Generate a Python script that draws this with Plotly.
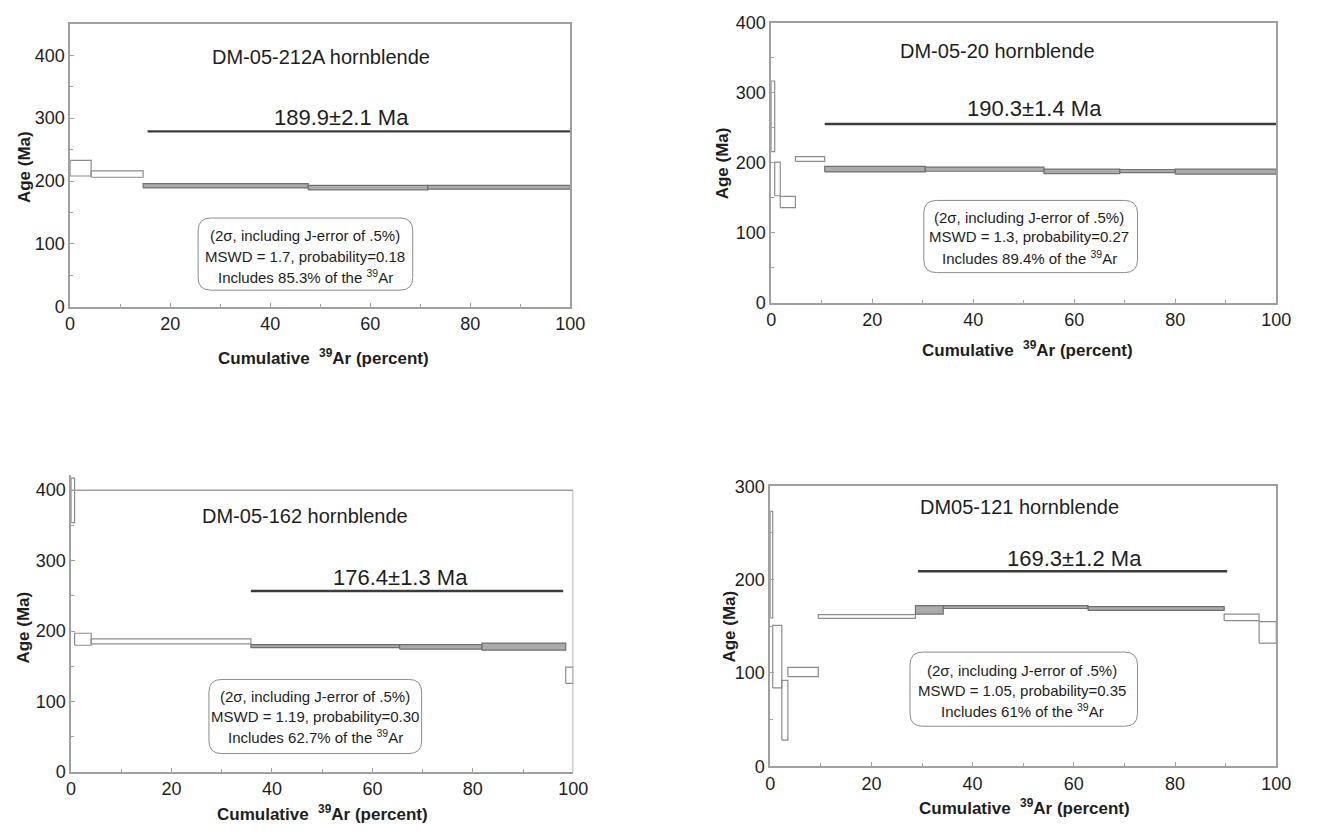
import plotly.graph_objects as go

PAGE_W, PAGE_H = 1318, 834
OFF = 8                      # default body margin of the html page
W, H = PAGE_W - 2 * OFF, PAGE_H - 2 * OFF

# ---------------- data ----------------
# Panel 1: DM-05-212A hornblende
p1_edges = [0, 4.2, 14.6, 47.6, 71.5, 100]
p1_lo = [208, 206, 189, 186, 187]
p1_hi = [233, 216, 196, 193, 193]
p1_plateau = [False, False, True, True, True]
p1_line = [15.5, 100, 279]
p1_name = "DM-05-212A hornblende"
p1_age = "189.9±2.1 Ma"
p1_stats = ["(2σ, including J-error of .5%)", "MSWD = 1.7, probability=0.18",
            "Includes 85.3% of the <sup>39</sup>Ar"]
p1_ymax = 450

# Panel 2: DM-05-20 hornblende
p2_edges = [0, 0.7, 1.8, 4.8, 10.6, 30.5, 54, 69, 80, 100]
p2_lo = [216, 153, 136, 202, 187, 188, 184.5, 186, 184]
p2_hi = [317, 201, 152, 209, 195, 194, 191, 190.5, 191]
p2_plateau = [False, False, False, False, True, True, True, True, True]
p2_line = [10.6, 100, 255.5]
p2_name = "DM-05-20 hornblende"
p2_age = "190.3±1.4 Ma"
p2_stats = ["(2σ, including J-error of .5%)", "MSWD = 1.3, probability=0.27",
            "Includes 89.4% of the <sup>39</sup>Ar"]
p2_ymax = 400

# Panel 3: DM-05-162 hornblende
p3_edges = [0, 0.7, 4.0, 35.8, 65.4, 81.8, 98.5, 100]
p3_lo = [354, 180, 182, 176.5, 174.5, 173, 126]
p3_hi = [417, 197, 189, 181, 181, 183, 149]
p3_plateau = [False, False, False, True, True, True, False]
p3_line = [35.8, 98, 257]
p3_name = "DM-05-162 hornblende"
p3_age = "176.4±1.3 Ma"
p3_stats = ["(2σ, including J-error of .5%)", "MSWD = 1.19, probability=0.30",
            "Includes 62.7% of the <sup>39</sup>Ar"]
p3_ymax = 400

# Panel 4: DM05-121 hornblende
p4_edges = [0, 0.5, 2.3, 3.5, 9.5, 28.7, 34.2, 62.8, 89.7, 96.6, 100]
p4_lo = [159, 84, 28, 96, 158.5, 163, 169, 167, 156, 132]
p4_hi = [273, 151, 92, 106, 162.5, 172, 172, 171, 163, 155]
p4_plateau = [False, False, False, False, False, True, True, True, False, False]
p4_line = [29.2, 90.3, 209]
p4_name = "DM05-121 hornblende"
p4_age = "169.3±1.2 Ma"
p4_stats = ["(2σ, including J-error of .5%)", "MSWD = 1.05, probability=0.35",
            "Includes 61% of the <sup>39</sup>Ar"]
p4_ymax = 300

x_ticks = [0, 20, 40, 60, 80, 100]
x_title = "Cumulative  <sup>39</sup>Ar (percent)"
y_title = "Age (Ma)"

# ---------------- layout (page pixel geometry) ----------------
FONT = "Liberation Sans, Arial, sans-serif"
panels = [
    dict(edges=p1_edges, lo=p1_lo, hi=p1_hi, plat=p1_plateau, line=p1_line,
         name=p1_name, age=p1_age, stats=p1_stats, ymax=p1_ymax, headroom=0,
         box=(66, 574, 14, 304), name_pos=(321, 48), age_pos=(342, 110),
         sbox=(196, 414, 213, 287), slines=(231, 252, 273), scx=305,
         ytit=(19, 161), xtit=(323, 355)),
    dict(edges=p2_edges, lo=p2_lo, hi=p2_hi, plat=p2_plateau, line=p2_line,
         name=p2_name, age=p2_age, stats=p2_stats, ymax=p2_ymax, headroom=0,
         box=(778, 1291, 13, 300), name_pos=(1008, 42), age_pos=(1045, 101),
         sbox=(933, 1150, 195, 269), slines=(212, 232, 253), scx=1040,
         ytit=(728, 157), xtit=(1038, 347)),
    dict(edges=p3_edges, lo=p3_lo, hi=p3_hi, plat=p3_plateau, line=p3_line,
         name=p3_name, age=p3_age, stats=p3_stats, ymax=p3_ymax, headroom=22,
         box=(67, 577, 492, 781), name_pos=(305, 518), age_pos=(402, 582),
         sbox=(207, 423, 686, 762), slines=(703, 724, 745), scx=315,
         ytit=(19, 633), xtit=(322, 823)),
    dict(edges=p4_edges, lo=p4_lo, hi=p4_hi, plat=p4_plateau, line=p4_line,
         name=p4_name, age=p4_age, stats=p4_stats, ymax=p4_ymax, headroom=0,
         box=(777, 1291, 488, 775), name_pos=(1030, 509), age_pos=(1086, 562),
         sbox=(919, 1150, 658, 734), slines=(677, 697, 718), scx=1033,
         ytit=(736, 632), xtit=(1035, 817)),
]


def px(x):
    return (x - OFF) / W


def py(y):
    return 1 - (y - OFF) / H


fig = go.Figure()
annotations = []
shapes = []

OUTLINE = "#8c8c8c"
PLAT_FILL = "#ababab"
PLAT_LINE = "#707070"
FRAME = "#a0a0a0"
TEXT = "#1e1e1e"

for i, p in enumerate(panels):
    k = "" if i == 0 else str(i + 1)
    xa, ya = "x" + k, "y" + k
    # step rectangles (age +/- 2 sigma)
    for plat_flag in (False, True):
        xs, ys = [], []
        for j in range(len(p["lo"])):
            if p["plat"][j] != plat_flag:
                continue
            x0, x1 = p["edges"][j], p["edges"][j + 1]
            lo, hi = p["lo"][j], p["hi"][j]
            xs += [x0, x1, x1, x0, x0, None]
            ys += [lo, lo, hi, hi, lo, None]
        if not xs:
            continue
        fig.add_trace(go.Scatter(
            x=xs, y=ys, xaxis=xa, yaxis=ya, mode="lines",
            fill="toself",
            fillcolor=PLAT_FILL if plat_flag else "rgba(255,255,255,1)",
            line=dict(color=PLAT_LINE if plat_flag else OUTLINE, width=1.2),
            showlegend=False, hoverinfo="skip"))
    # plateau age bar
    fig.add_trace(go.Scatter(
        x=[p["line"][0], p["line"][1]], y=[p["line"][2], p["line"][2]],
        xaxis=xa, yaxis=ya, mode="lines",
        line=dict(color="#3c3c3c", width=2.4),
        showlegend=False, hoverinfo="skip"))

    bx0, bx1, by0, by1 = p["box"]
    ymax = p["ymax"]
    head = p["headroom"]
    # if headroom > 0 the data area extends above the frame top (spike drawn over it)
    pix_per_unit = (by1 - by0) / ymax
    top_px = by0 - head * pix_per_unit
    mirror = head == 0
    axis_common = dict(showline=True, mirror=mirror, linecolor=FRAME, linewidth=1.5,
                       ticks="inside", ticklen=4, tickcolor=FRAME, tickwidth=1,
                       showgrid=False, zeroline=False,
                       tickfont=dict(family=FONT, size=18, color=TEXT))
    fig.update_layout(**{
        ("xaxis" + k): dict(domain=[px(bx0), px(bx1)], range=[0, 100],
                            tickmode="array", tickvals=x_ticks,
                            minor=dict(ticks="inside", ticklen=3, dtick=10, tickcolor=FRAME),
                            anchor=ya, **axis_common),
        ("yaxis" + k): dict(domain=[py(by1), py(top_px)], range=[0, ymax + head],
                            tickmode="linear", tick0=0, dtick=100,
                            minor=dict(ticks="inside", ticklen=3, dtick=50, tickcolor=FRAME),
                            anchor=xa, **axis_common),
    })
    if not mirror:
        shapes.append(dict(type="line", xref=xa, yref=ya, x0=0, x1=100, y0=ymax, y1=ymax,
                           line=dict(color=FRAME, width=1.5), layer="above"))
        shapes.append(dict(type="line", xref=xa, yref=ya, x0=100, x1=100, y0=0, y1=ymax,
                           line=dict(color=FRAME, width=1.5), layer="above"))

    # texts
    annotations.append(dict(text=p["name"], x=px(p["name_pos"][0]), y=py(p["name_pos"][1]),
                            xref="paper", yref="paper", showarrow=False,
                            xanchor="center", yanchor="middle",
                            font=dict(family=FONT, size=20, color=TEXT)))
    annotations.append(dict(text=p["age"], x=px(p["age_pos"][0]), y=py(p["age_pos"][1]),
                            xref="paper", yref="paper", showarrow=False,
                            xanchor="center", yanchor="middle",
                            font=dict(family=FONT, size=22, color=TEXT)))
    for line_txt, ly in zip(p["stats"], p["slines"]):
        annotations.append(dict(text=line_txt, x=px(p["scx"]), y=py(ly),
                                xref="paper", yref="paper", showarrow=False,
                                xanchor="center", yanchor="middle",
                                font=dict(family=FONT, size=15, color=TEXT)))
    # rounded stats box
    sx0, sx1, sy0, sy1 = p["sbox"]
    r = 13
    X0, X1 = px(sx0), px(sx1)
    Y0, Y1 = py(sy1), py(sy0)
    rx, ry = r / W, r / H
    path = (f"M {X0+rx},{Y0} L {X1-rx},{Y0} Q {X1},{Y0} {X1},{Y0+ry} "
            f"L {X1},{Y1-ry} Q {X1},{Y1} {X1-rx},{Y1} L {X0+rx},{Y1} "
            f"Q {X0},{Y1} {X0},{Y1-ry} L {X0},{Y0+ry} Q {X0},{Y0} {X0+rx},{Y0} Z")
    shapes.append(dict(type="path", path=path, xref="paper", yref="paper",
                       line=dict(color="#8c8c8c", width=1)))
    # axis titles
    annotations.append(dict(text="<b>" + y_title + "</b>", x=px(p["ytit"][0]), y=py(p["ytit"][1]),
                            xref="paper", yref="paper", showarrow=False, textangle=-90,
                            xanchor="center", yanchor="middle",
                            font=dict(family=FONT, size=17, color=TEXT)))
    annotations.append(dict(text="<b>" + x_title + "</b>", x=px(p["xtit"][0]), y=py(p["xtit"][1]),
                            xref="paper", yref="paper", showarrow=False,
                            xanchor="center", yanchor="middle",
                            font=dict(family=FONT, size=17, color=TEXT)))

fig.update_layout(width=W, height=H, margin=dict(l=0, r=0, t=0, b=0),
                  paper_bgcolor="white", plot_bgcolor="white",
                  annotations=annotations, shapes=shapes,
                  font=dict(family=FONT, color=TEXT))

fig.write_html("out.html", config={"displayModeBar": False})
